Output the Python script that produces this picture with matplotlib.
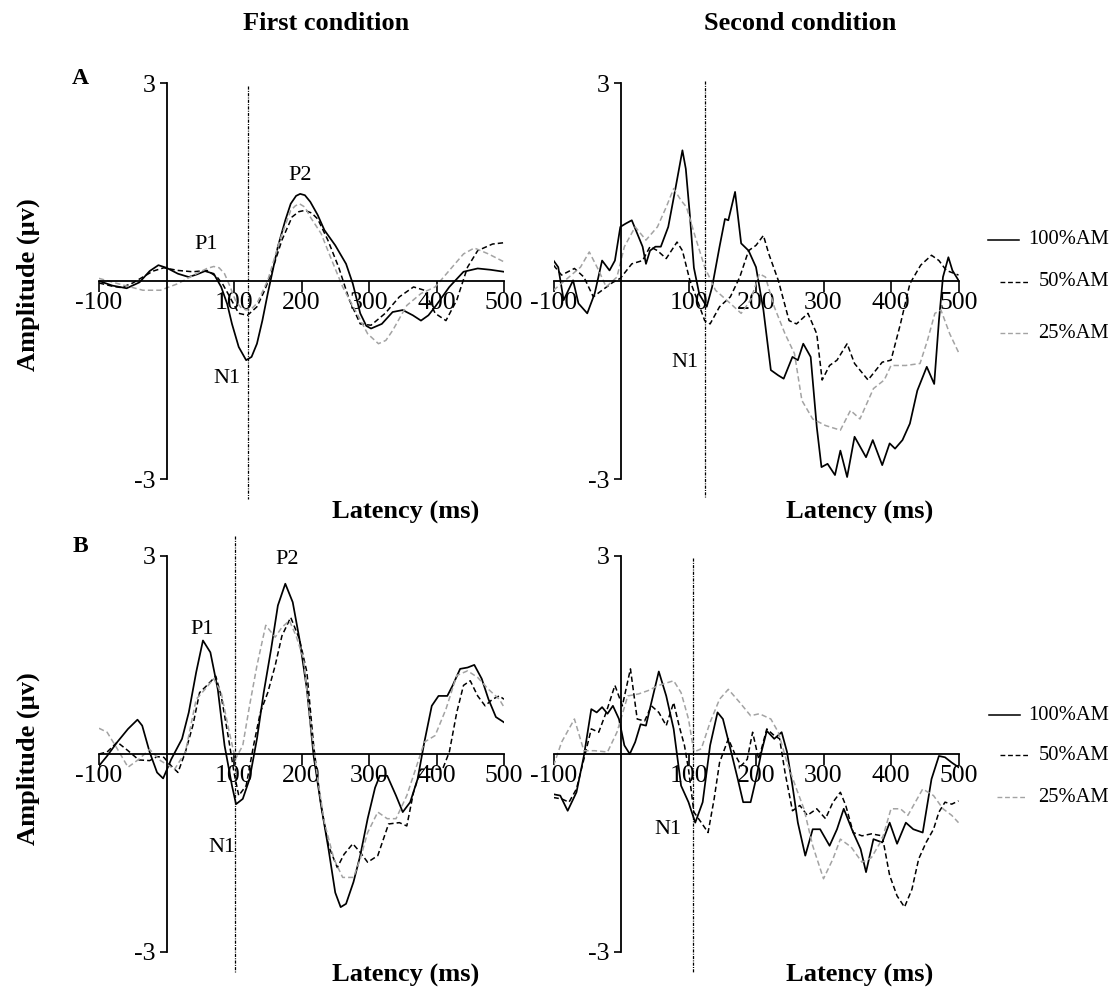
import matplotlib
matplotlib.use("Agg")
import matplotlib.pyplot as plt
from matplotlib.lines import Line2D

plt.rcParams['font.family'] = ['Liberation Serif', 'DejaVu Serif']

W, H = 1114, 989

conditions = ['100%AM', '50%AM', '25%AM']
xtick_vals = [-100, 100, 200, 300, 400, 500]
xtick_labels = ['-100', '100', '200', '300', '400', '500']
ytick_vals = [-3, 3]
ytick_labels = ['-3', '3']

# ---- A, first condition ----
a1_t_100 = [-100, -80, -59, -40, -25, -12, 0, 17, 33, 45, 57, 70, 81, 90, 97, 107, 118, 126, 134, 142, 150,
            165, 176, 184, 192, 198, 205, 213, 224, 234, 250, 266, 276, 287, 296, 303, 319, 335, 350, 365,
            377, 388, 398, 419, 440, 461, 480, 500]
a1_v_100 = [0.0, -0.07, -0.11, -0.02, 0.15, 0.24, 0.2, 0.11, 0.06, 0.1, 0.15, 0.11, -0.09, -0.35, -0.65,
            -1.0, -1.2, -1.15, -0.95, -0.6, -0.19, 0.52, 0.92, 1.17, 1.29, 1.32, 1.3, 1.2, 1.0, 0.77, 0.54,
            0.26, -0.04, -0.49, -0.68, -0.72, -0.65, -0.47, -0.44, -0.52, -0.6, -0.52, -0.39, -0.09, 0.14,
            0.19, 0.17, 0.14]
a1_t_50 = [-100, -80, -67, -50, -35, -20, -4, 17, 39, 60, 75, 84, 91, 100, 107, 120, 134, 145, 155, 171, 186,
           196, 205, 215, 224, 239, 255, 271, 287, 303, 324, 345, 366, 382, 398, 414, 430, 446, 461, 483, 500]
a1_v_50 = [-0.03, -0.08, -0.1, -0.03, 0.06, 0.15, 0.2, 0.16, 0.14, 0.16, 0.06, -0.06, -0.19, -0.36, -0.49,
           -0.52, -0.39, -0.15, 0.11, 0.62, 0.97, 1.05, 1.07, 1.03, 0.94, 0.62, 0.21, -0.29, -0.65, -0.67,
           -0.49, -0.24, -0.09, -0.14, -0.49, -0.6, -0.29, 0.21, 0.46, 0.56, 0.58]
a1_t_25 = [-100, -72, -50, -35, -9, 17, 44, 60, 70, 78, 86, 94, 102, 110, 118, 126, 134, 150, 168, 184, 191,
           197, 205, 213, 229, 245, 261, 282, 298, 314, 325, 335, 356, 377, 398, 419, 440, 456, 477, 500]
a1_v_25 = [0.04, -0.04, -0.1, -0.14, -0.14, -0.04, 0.11, 0.19, 0.22, 0.2, 0.11, -0.08, -0.29, -0.4, -0.44,
           -0.42, -0.34, 0.01, 0.62, 1.07, 1.14, 1.17, 1.12, 0.97, 0.72, 0.31, -0.09, -0.49, -0.8, -0.95,
           -0.9, -0.75, -0.37, -0.19, -0.09, 0.16, 0.41, 0.5, 0.41, 0.29]

# ---- A, second condition ----
a2_t_100 = [-100, -93, -85, -71, -63, -50, -39, -28, -17, -9, -1, 7, 16, 24, 32, 37, 43, 51, 59, 70, 81, 91,
            96, 102, 108, 116, 127, 135, 146, 154, 159, 169, 178, 189, 200, 211, 222, 233, 241, 254, 262,
            270, 281, 290, 297, 306, 317, 325, 335, 346, 363, 373, 387, 398, 406, 417, 428, 439, 453, 464,
            471, 477, 485, 491, 500]
a2_v_100 = [0.31, 0.21, -0.29, 0.01, -0.34, -0.49, -0.19, 0.31, 0.16, 0.31, 0.82, 0.87, 0.92, 0.72, 0.52,
            0.26, 0.46, 0.52, 0.52, 0.82, 1.42, 1.98, 1.7, 1.0, 0.2, -0.2, -0.39, -0.09, 0.52, 0.94, 0.92,
            1.35, 0.57, 0.46, 0.21, -0.44, -1.35, -1.43, -1.48, -1.15, -1.2, -0.95, -1.15, -2.21, -2.82,
            -2.77, -2.94, -2.57, -2.97, -2.36, -2.67, -2.41, -2.79, -2.46, -2.54, -2.41, -2.16, -1.66, -1.3,
            -1.56, -0.6, 0.06, 0.36, 0.16, 0.01]
a2_t_50 = [-100, -88, -69, -55, -41, -28, -12, -1, 16, 32, 43, 54, 67, 83, 91, 102, 113, 124, 132, 146, 162,
           176, 189, 200, 211, 219, 233, 249, 260, 277, 290, 298, 309, 320, 335, 346, 366, 387, 400, 414,
           428, 444, 460, 471, 482, 500]
a2_v_50 = [0.24, 0.09, 0.19, 0.06, -0.24, -0.14, -0.02, 0.04, 0.26, 0.31, 0.52, 0.46, 0.34, 0.59, 0.46,
           0.01, -0.29, -0.6, -0.65, -0.39, -0.24, 0.06, 0.46, 0.54, 0.69, 0.41, 0.01, -0.6, -0.65, -0.49,
           -0.8, -1.5, -1.28, -1.2, -0.95, -1.25, -1.5, -1.23, -1.2, -0.65, -0.04, 0.24, 0.39, 0.31, 0.16,
           0.09]
a2_t_25 = [-100, -77, -60, -47, -33, -22, -6, 5, 21, 37, 54, 67, 78, 89, 97, 110, 124, 140, 162, 178, 192,
           205, 214, 227, 243, 257, 268, 284, 303, 325, 340, 354, 374, 390, 400, 422, 443, 454, 465, 474,
           487, 500]
a2_v_25 = [-0.14, 0.06, 0.21, 0.44, 0.16, -0.09, 0.06, 0.52, 0.82, 0.62, 0.82, 1.12, 1.4, 1.22, 1.12, 0.67,
           0.21, -0.14, -0.34, -0.49, -0.29, 0.11, 0.06, -0.39, -0.8, -1.1, -1.81, -2.09, -2.19, -2.26,
           -1.96, -2.09, -1.63, -1.5, -1.28, -1.28, -1.25, -0.9, -0.49, -0.44, -0.8, -1.08]

# ---- B, first condition ----
b1_t_100 = [-100, -88, -73, -57, -43, -36, -25, -14, -5, 7, 23, 33, 44, 54, 65, 76, 86, 97, 103, 113, 123,
            134, 144, 155, 165, 176, 187, 197, 208, 218, 229, 240, 250, 258, 266, 277, 287, 298, 309, 316,
            327, 340, 350, 361, 372, 382, 393, 403, 416, 424, 435, 446, 456, 467, 477, 488, 500]
b1_v_100 = [-0.18, -0.03, 0.18, 0.38, 0.52, 0.43, 0.03, -0.28, -0.37, -0.08, 0.23, 0.63, 1.24, 1.72, 1.54,
            0.98, 0.13, -0.48, -0.76, -0.68, -0.38, 0.23, 0.93, 1.59, 2.25, 2.58, 2.3, 1.74, 0.98, -0.03,
            -0.78, -1.44, -2.1, -2.32, -2.27, -1.94, -1.54, -0.98, -0.51, -0.33, -0.33, -0.63, -0.88, -0.73,
            -0.38, 0.18, 0.73, 0.88, 0.88, 1.04, 1.29, 1.31, 1.35, 1.14, 0.83, 0.56, 0.48]
b1_t_50 = [-100, -88, -73, -57, -41, -25, -14, -4, 7, 17, 28, 39, 49, 60, 73, 81, 92, 100, 107, 118, 129,
           139, 150, 161, 171, 184, 197, 208, 218, 229, 240, 253, 263, 276, 287, 298, 313, 329, 345, 356,
           366, 377, 393, 409, 419, 430, 440, 450, 461, 472, 483, 493, 500]
b1_v_50 = [0.0, 0.03, 0.18, 0.05, -0.09, -0.1, -0.04, -0.05, -0.18, -0.28, 0.03, 0.43, 0.93, 1.04, 1.18,
           0.88, 0.23, -0.28, -0.63, -0.48, 0.13, 0.63, 0.93, 1.34, 1.79, 2.07, 1.74, 1.24, 0.13, -0.78,
           -1.39, -1.72, -1.52, -1.36, -1.49, -1.64, -1.54, -1.06, -1.04, -1.09, -0.58, -0.23, -0.23,
           -0.23, 0.03, 0.63, 1.04, 1.11, 0.88, 0.73, 0.83, 0.88, 0.83]
b1_t_25 = [-100, -88, -73, -57, -41, -25, -9, 12, 28, 44, 57, 70, 81, 92, 102, 113, 123, 134, 147, 161, 171,
           182, 192, 203, 213, 224, 234, 248, 261, 277, 287, 298, 313, 327, 340, 356, 369, 382, 398, 414,
           430, 446, 461, 477, 493, 500]
b1_v_25 = [0.39, 0.33, 0.08, -0.2, -0.08, 0.07, -0.1, -0.23, 0.03, 0.83, 0.98, 1.14, 0.93, 0.38, -0.08, 0.13,
           0.73, 1.34, 1.95, 1.77, 1.92, 2.02, 1.79, 1.44, 0.48, -0.38, -1.04, -1.59, -1.87, -1.87, -1.59,
           -1.19, -0.88, -0.98, -0.98, -0.63, -0.23, 0.18, 0.28, 0.68, 1.19, 1.26, 1.16, 0.98, 0.83, 0.71]

# ---- B, second condition ----
b2_t_100 = [-100, -90, -79, -66, -55, -44, -36, -28, -20, -12, -3, 5, 13, 21, 29, 37, 45, 56, 67, 78, 89,
            100, 110, 121, 132, 143, 151, 162, 173, 181, 192, 200, 208, 216, 227, 238, 246, 254, 262, 273,
            284, 295, 309, 320, 330, 344, 355, 363, 374, 387, 398, 409, 422, 433, 447, 460, 471, 480, 490,
            500]
b2_v_100 = [-0.61, -0.63, -0.86, -0.58, -0.03, 0.68, 0.63, 0.71, 0.61, 0.73, 0.53, 0.13, 0.0, 0.18, 0.45,
            0.43, 0.78, 1.25, 0.88, 0.38, -0.48, -0.73, -1.04, -0.73, 0.13, 0.63, 0.53, 0.08, -0.38, -0.73,
            -0.73, -0.38, 0.03, 0.35, 0.23, 0.33, 0.03, -0.48, -1.04, -1.54, -1.14, -1.14, -1.39, -1.14,
            -0.83, -1.19, -1.44, -1.79, -1.29, -1.34, -1.04, -1.36, -1.04, -1.14, -1.19, -0.38, -0.03,
            -0.05, -0.13, -0.2]
b2_t_50 = [-100, -88, -77, -66, -55, -44, -33, -22, -9, 2, 14, 24, 35, 45, 56, 67, 78, 86, 94, 100, 108, 119,
           129, 138, 146, 159, 170, 178, 187, 195, 204, 216, 227, 235, 243, 254, 265, 276, 290, 303, 314,
           325, 333, 344, 357, 371, 387, 398, 409, 420, 431, 441, 452, 463, 471, 480, 490, 500]
b2_v_50 = [-0.66, -0.68, -0.73, -0.53, -0.08, 0.38, 0.33, 0.63, 1.04, 0.73, 1.29, 0.53, 0.5, 0.73, 0.63,
           0.43, 0.78, 0.43, 0.13, -0.23, -0.88, -1.04, -1.19, -0.68, -0.13, 0.23, -0.03, -0.18, -0.08,
           0.33, -0.08, 0.38, 0.28, 0.23, -0.28, -0.86, -0.78, -0.93, -0.83, -0.98, -0.73, -0.58, -0.78,
           -1.19, -1.24, -1.21, -1.24, -1.84, -2.15, -2.32, -2.05, -1.59, -1.34, -1.14, -0.88, -0.73,
           -0.76, -0.71]
b2_t_25 = [-100, -88, -69, -55, -39, -20, -6, 10, 26, 40, 56, 78, 89, 100, 108, 119, 132, 146, 159, 176, 192,
           205, 222, 233, 246, 260, 271, 284, 300, 314, 325, 341, 357, 371, 387, 400, 414, 425, 436, 447,
           463, 477, 490, 500]
b2_v_25 = [-0.18, 0.18, 0.53, 0.05, 0.05, 0.03, 0.33, 0.88, 0.91, 0.96, 1.04, 1.11, 0.93, 0.53, 0.03, 0.08,
           0.48, 0.83, 0.98, 0.78, 0.58, 0.61, 0.53, 0.33, -0.13, -0.53, -0.83, -1.39, -1.89, -1.59, -1.29,
           -1.41, -1.64, -1.57, -1.29, -0.83, -0.83, -0.93, -0.73, -0.53, -0.63, -0.83, -0.93, -1.04]

# stimulus-change marker: latency, top and bottom of the line
a1_marker = (120, 2.95, -3.3)
a2_marker = (125, 3.03, -3.27)
b1_marker = (102, 3.3, -3.32)
b2_marker = (106, 2.97, -3.32)

# component labels: text, latency, amplitude
a1_peaks = [('P1', 59, 0.55), ('P2', 198, 1.6), ('N1', 89, -1.48)]
a2_peaks = [('N1', 94, -1.23)]
b1_peaks = [('P1', 53, 1.89), ('P2', 179, 2.95), ('N1', 82, -1.41)]
b2_peaks = [('N1', 70, -1.14)]

styles = [
    dict(color='black', lw=1.25, ls='-'),
    dict(color='black', lw=1.1, ls=(0, (3.5, 2))),
    dict(color='#a3a3a3', lw=1.1, ls=(0, (3.5, 2))),
]


def fx(px):
    return px / W


def fy(py):
    return 1 - py / H


def draw_panel(x0, x1, y_top, y_bot, series, marker, peaks):
    ax = fig.add_axes([fx(x0), fy(y_bot), fx(x1) - fx(x0), (y_bot - y_top) / H])
    ax.set_xlim(-100, 500)
    ax.set_ylim(-3, 3)
    ax.patch.set_visible(False)

    for (t, v), st in zip(series, styles):
        ax.plot(t, v, **st)

    lat, top, bot = marker
    ax.plot([lat, lat], [top, bot], color='black', lw=0.9,
            ls=(0, (2.5, 1, 0.8, 1)), clip_on=False)

    for txt, px, py in peaks:
        ax.text(px, py, txt, ha='center', va='center', fontsize=16)

    for side in ('top', 'right'):
        ax.spines[side].set_visible(False)
    ax.spines['left'].set_position(('data', 0))
    ax.spines['bottom'].set_position(('data', 0))
    ax.spines['left'].set_bounds(-3, 3)
    ax.spines['bottom'].set_bounds(-100, 500)
    for side in ('left', 'bottom'):
        ax.spines[side].set_linewidth(1.3)

    ax.set_xticks(xtick_vals)
    ax.set_xticklabels(xtick_labels)
    ax.set_yticks(ytick_vals)
    ax.set_yticklabels(ytick_labels)
    ax.tick_params(axis='x', direction='out', length=8, width=1.2, pad=0, labelsize=18.5)
    ax.tick_params(axis='y', direction='out', length=5, width=1.2, pad=3, labelsize=18.5)
    return ax


fig = plt.figure(figsize=(W / 100, H / 100), dpi=100)

LEFT = (99, 504)
RIGHT = (553.5, 958.5)
TOP = (83, 479)
BOTTOM = (556, 952)

draw_panel(*LEFT, *TOP, [(a1_t_100, a1_v_100), (a1_t_50, a1_v_50), (a1_t_25, a1_v_25)], a1_marker, a1_peaks)
draw_panel(*RIGHT, *TOP, [(a2_t_100, a2_v_100), (a2_t_50, a2_v_50), (a2_t_25, a2_v_25)], a2_marker, a2_peaks)
draw_panel(*LEFT, *BOTTOM, [(b1_t_100, b1_v_100), (b1_t_50, b1_v_50), (b1_t_25, b1_v_25)], b1_marker, b1_peaks)
draw_panel(*RIGHT, *BOTTOM, [(b2_t_100, b2_v_100), (b2_t_50, b2_v_50), (b2_t_25, b2_v_25)], b2_marker, b2_peaks)

bold = dict(fontweight='bold', fontsize=19, ha='center', va='center')
fig.text(fx(326), fy(23), 'First condition', **bold)
fig.text(fx(800), fy(23), 'Second condition', **bold)
for y in (285, 759):
    fig.text(fx(28), fy(y), 'Amplitude (µv)', rotation=90, **bold)
for x, y in [(406, 512), (860, 512), (406, 975), (860, 975)]:
    fig.text(fx(x), fy(y), 'Latency (ms)', **bold)
fig.text(fx(80), fy(78), 'A', fontweight='bold', fontsize=17, ha='center', va='center')
fig.text(fx(80), fy(547), 'B', fontweight='bold', fontsize=17, ha='center', va='center')

# legends beside the right-hand panels
legend_rows = [
    [(988, 1019, 240), (1000, 1030, 282), (1000, 1030, 333)],
    [(989, 1020, 715), (1000, 1030, 755), (997, 1027, 797)],
]
for rows in legend_rows:
    for (lx0, lx1, ly), name, st in zip(rows, conditions, styles):
        fig.add_artist(Line2D([fx(lx0), fx(lx1)], [fy(ly), fy(ly)], transform=fig.transFigure,
                              color=st['color'], lw=st['lw'] * 0.9, ls=st['ls']))
        fig.text(fx(1109), fy(ly), name, fontsize=14.8, ha='right', va='center')

fig.savefig('out.png', dpi=100)
